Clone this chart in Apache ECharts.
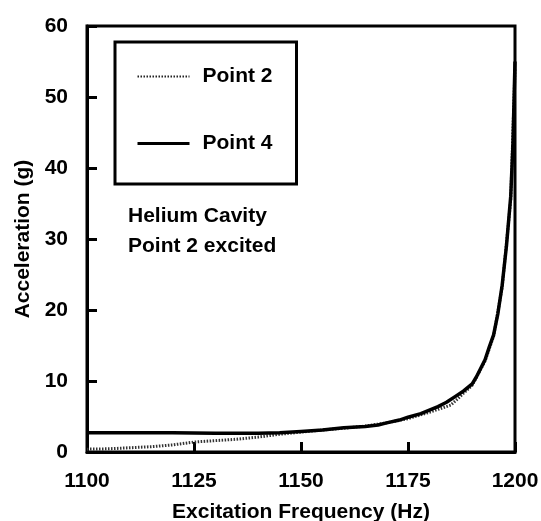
<!DOCTYPE html>
<html>
<head>
<meta charset="utf-8">
<script src="https://cdn.jsdelivr.net/npm/echarts@6/dist/echarts.min.js"></script>
<style>
html,body{margin:0;padding:0;background:#fff;}
#chart{width:541px;height:521px;}
</style>
</head>
<body>
<div id="chart"></div>
<script>
// ---- data ----
const xTicks = [1100, 1125, 1150, 1175, 1200];
const yTicks = [0, 10, 20, 30, 40, 50, 60];

const freqP4 = [1100, 1110, 1120, 1130, 1140, 1145, 1150, 1155, 1160, 1165, 1168, 1170, 1173, 1175, 1178, 1180, 1182, 1184, 1186, 1188, 1190, 1191, 1192, 1193, 1194, 1195, 1196, 1197, 1198, 1199, 1199.5, 1200];
const accP4  = [2.7, 2.7, 2.7, 2.65, 2.65, 2.7, 2.9, 3.1, 3.4, 3.6, 3.8, 4.1, 4.5, 4.9, 5.4, 5.9, 6.4, 7.0, 7.8, 8.6, 9.6, 10.6, 11.8, 13.0, 14.8, 16.5, 19.5, 23.5, 29, 36, 43, 55];

const freqP2 = [1100, 1105, 1110, 1115, 1120, 1125, 1130, 1135, 1140, 1145, 1150, 1155, 1160, 1165, 1170, 1175, 1180, 1185, 1190, 1193, 1195, 1197, 1199, 1200];
const accP2  = [0.4, 0.45, 0.6, 0.75, 1.0, 1.4, 1.6, 1.8, 2.1, 2.5, 2.8, 3.1, 3.35, 3.65, 4.1, 4.7, 5.6, 6.6, 9.4, 12.8, 16.3, 23.2, 35.5, 54];

const seriesNames = ['Point 2', 'Point 4'];
const noteLines = ['Helium Cavity', 'Point 2 excited'];
const xName = 'Excitation Frequency (Hz)';
const yName = 'Acceleration (g)';

const pairs = (xs, ys) => xs.map((x, i) => [x, ys[i]]);
const FONT = '"Liberation Sans", Arial, sans-serif';

const chart = echarts.init(document.getElementById('chart'), null, {renderer: 'canvas'});
chart.setOption({
  backgroundColor: '#ffffff',
  animation: false,
  textStyle: {fontFamily: FONT, color: '#000'},
  grid: {
    left: 87, right: 26, top: 26, bottom: 69,
    outerBoundsMode: 'none', containLabel: false,
    show: true, borderColor: '#000', borderWidth: 3, backgroundColor: 'transparent'
  },
  title: {
    text: noteLines.join('\n'),
    left: 123, top: 196,
    textStyle: {fontFamily: FONT, fontSize: 21, fontWeight: 'bold', color: '#000', lineHeight: 30}
  },
  legend: {
    data: [
      {name: seriesNames[0], lineStyle: {color: '#222', width: 2, type: [1.5, 1.5]}},
      {name: seriesNames[1], lineStyle: {color: '#000', width: 3, type: 'solid'}}
    ],
    orient: 'vertical',
    left: 115, top: 42,
    padding: [24, 24, 30, 21],
    itemGap: 46,
    itemWidth: 52, itemHeight: 14,
    borderColor: '#000', borderWidth: 3,
    backgroundColor: '#fff',
    itemStyle: {opacity: 0, borderWidth: 0},
    textStyle: {fontFamily: FONT, fontSize: 21, fontWeight: 'bold', color: '#000', padding: [0, 0, 0, 8]}
  },
  xAxis: {
    type: 'value',
    min: xTicks[0], max: xTicks[xTicks.length - 1], interval: 25,
    name: xName, nameLocation: 'middle', nameGap: 50,
    nameTextStyle: {fontFamily: FONT, fontSize: 21, fontWeight: 'bold', color: '#000'},
    axisLine: {show: true, lineStyle: {color: '#000', width: 3}},
    axisTick: {show: true, inside: true, length: 10, lineStyle: {color: '#000', width: 3}},
    axisLabel: {fontFamily: FONT, fontSize: 21, fontWeight: 'bold', color: '#000', margin: 19,
                formatter: v => xTicks.includes(v) ? String(v) : ''},
    splitLine: {show: false}
  },
  yAxis: {
    type: 'value',
    min: yTicks[0], max: yTicks[yTicks.length - 1], interval: 10,
    name: yName, nameLocation: 'middle', nameGap: 52,
    nameTextStyle: {fontFamily: FONT, fontSize: 21, fontWeight: 'bold', color: '#000'},
    axisLine: {show: true, lineStyle: {color: '#000', width: 3}},
    axisTick: {show: true, inside: true, length: 10, lineStyle: {color: '#000', width: 3}},
    axisLabel: {fontFamily: FONT, fontSize: 21, fontWeight: 'bold', color: '#000', margin: 19,
                formatter: v => yTicks.includes(v) ? String(v) : ''},
    splitLine: {show: false}
  },
  series: [
    {
      name: seriesNames[0], type: 'line', data: pairs(freqP2, accP2),
      symbol: 'none', showSymbol: false, z: 2,
      lineStyle: {color: '#333', width: 3, type: [1.5, 1.5]},
      itemStyle: {color: '#333'}
    },
    {
      name: seriesNames[1], type: 'line', data: pairs(freqP4, accP4),
      symbol: 'none', showSymbol: false, z: 3,
      lineStyle: {color: '#000', width: 3.5, type: 'solid'},
      itemStyle: {color: '#000'}
    }
  ]
});
</script>
</body>
</html>
